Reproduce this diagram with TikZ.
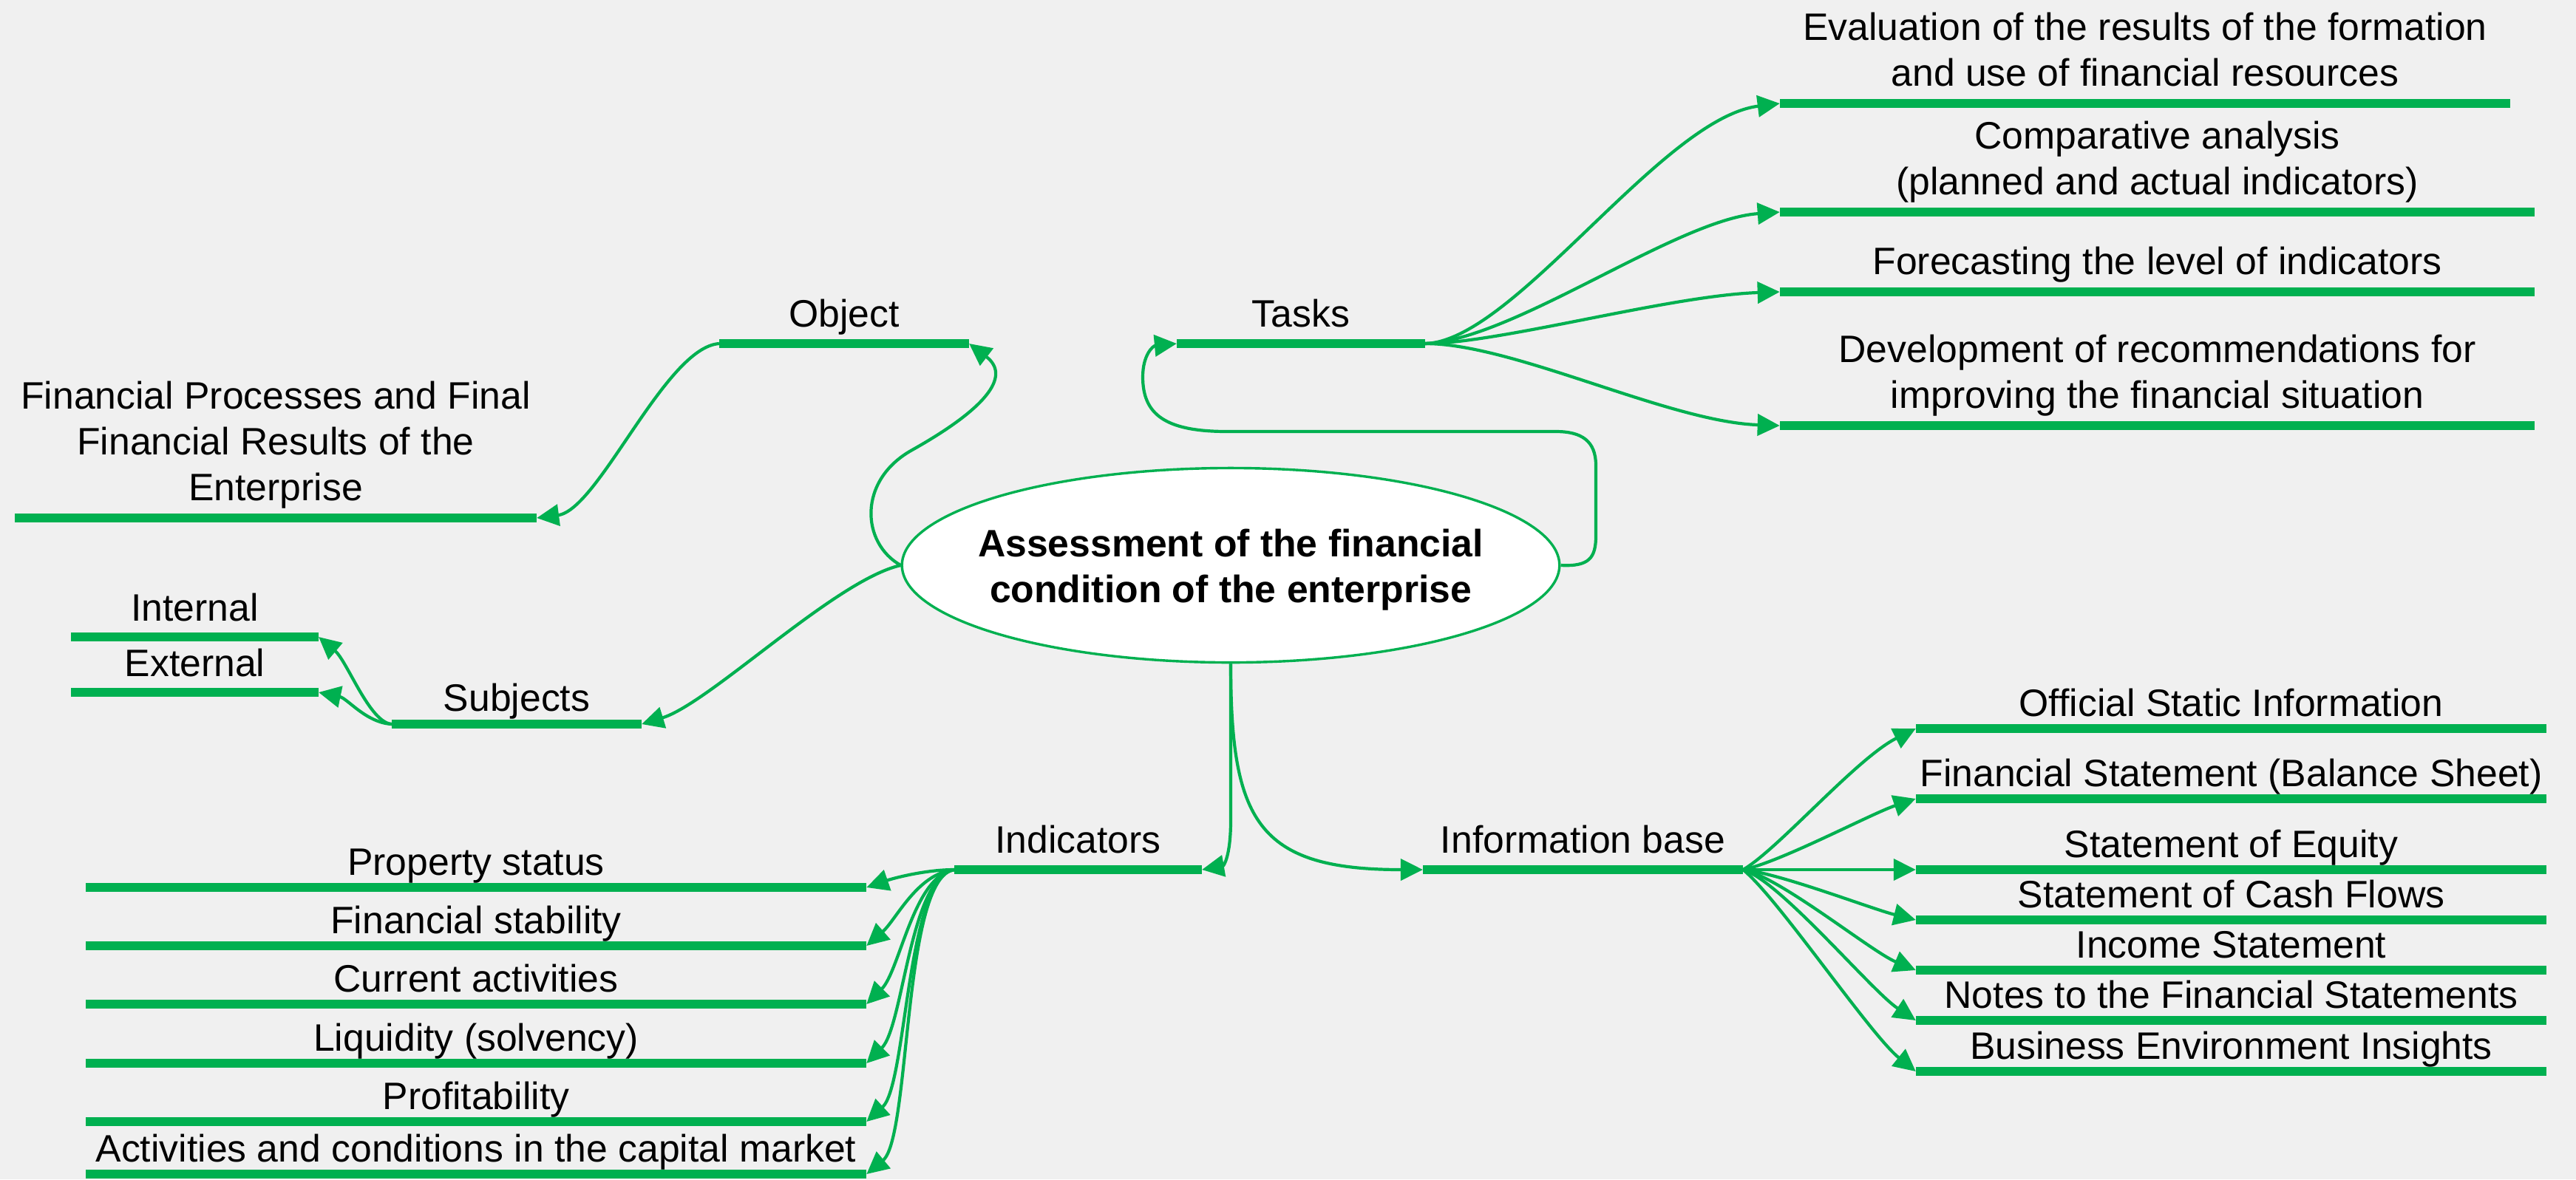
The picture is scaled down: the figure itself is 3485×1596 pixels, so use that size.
\documentclass[tikz,border=0pt]{standalone}
\usepackage{fontspec}
\setmainfont{Liberation Sans}
\usetikzlibrary{arrows.meta,shapes.geometric}
\definecolor{grn}{RGB}{0,176,80}
\definecolor{paper}{RGB}{240,240,240}
\newcommand{\ml}[1]{\begin{tabular}[b]{@{}c@{}}#1\end{tabular}}
\begin{document}
\begin{tikzpicture}[x=0.01cm,y=-0.01cm,
  bar/.style={rectangle,fill=grn,draw=none,inner sep=0pt,outer sep=0pt,minimum height=0.113cm},
  lbl/.style={anchor=base,inner sep=0pt,outer sep=0pt,font=\fontsize{14.7}{17.6}\selectfont},
  conn/.style={draw=grn,line width=0.042cm,-{Triangle[length=0.3cm,width=0.29cm]}},
  hub/.style={ellipse,draw=grn,line width=0.034cm,fill=white,minimum width=8.89cm,minimum height=2.63cm,inner sep=0pt}]
\fill[paper] (0,0) rectangle (3485,1596);
\useasboundingbox (0,0) rectangle (3485,1596);

% central hub
\node[hub] (hub) at (1665,765) {};
\node[lbl,font=\bfseries\fontsize{14.7}{17.6}\selectfont] (hubtxt) at (1665,815) {\ml{Assessment of the financial\\condition of the enterprise}};

% bars
\node[bar,minimum width=3.36cm] (tasks) at (1760,465) {};
\node[bar,minimum width=9.88cm] (t1) at (2902,140) {};
\node[bar,minimum width=10.21cm] (t2) at (2918.5,287) {};
\node[bar,minimum width=10.21cm] (t3) at (2918.5,395) {};
\node[bar,minimum width=10.21cm] (t4) at (2918.5,576) {};
\node[bar,minimum width=3.38cm] (object) at (1142,465) {};
\node[bar,minimum width=7.06cm] (proc) at (373,701) {};
\node[bar,minimum width=3.38cm] (subj) at (699,980) {};
\node[bar,minimum width=3.35cm] (internal) at (263.5,862) {};
\node[bar,minimum width=3.35cm] (external) at (263.5,937) {};
\node[bar,minimum width=3.35cm] (ind) at (1458.5,1177) {};
\node[bar,minimum width=10.56cm] (i1) at (644,1201) {};
\node[bar,minimum width=10.56cm] (i2) at (644,1280) {};
\node[bar,minimum width=10.56cm] (i3) at (644,1359) {};
\node[bar,minimum width=10.56cm] (i4) at (644,1439) {};
\node[bar,minimum width=10.56cm] (i5) at (644,1518) {};
\node[bar,minimum width=10.56cm] (i6) at (644,1589) {};
\node[bar,minimum width=4.33cm] (info) at (2141.5,1177) {};
\node[bar,minimum width=8.53cm] (b1) at (3018.5,986) {};
\node[bar,minimum width=8.53cm] (b2) at (3018.5,1081) {};
\node[bar,minimum width=8.53cm] (b3) at (3018.5,1177) {};
\node[bar,minimum width=8.53cm] (b4) at (3018.5,1245) {};
\node[bar,minimum width=8.53cm] (b5) at (3018.5,1313) {};
\node[bar,minimum width=8.53cm] (b6) at (3018.5,1381) {};
\node[bar,minimum width=8.53cm] (b7) at (3018.5,1450) {};

% labels
\node[lbl] (ltasks) at (1760,442) {Tasks};
\node[lbl] (lt1) at (2902,116) {\ml{Evaluation of the results of the formation\\and use of financial resources}};
\node[lbl] (lt2) at (2918.5,263) {\ml{Comparative analysis\\(planned and actual indicators)}};
\node[lbl] (lt3) at (2918.5,371) {Forecasting the level of indicators};
\node[lbl] (lt4) at (2918.5,552) {\ml{Development of recommendations for\\improving the financial situation}};
\node[lbl] (lobject) at (1142,442) {Object};
\node[lbl] (lproc) at (373,677) {\ml{Financial Processes and Final\\Financial Results of the\\Enterprise}};
\node[lbl] (lsubj) at (699,962) {Subjects};
\node[lbl] (linternal) at (263.5,840) {Internal};
\node[lbl] (lexternal) at (263.5,915) {External};
\node[lbl] (lind) at (1458.5,1154) {Indicators};
\node[lbl] (li1) at (644,1184) {Property status};
\node[lbl] (li2) at (644,1263) {Financial stability};
\node[lbl] (li3) at (644,1342) {Current activities};
\node[lbl] (li4) at (644,1422) {Liquidity (solvency)};
\node[lbl] (li5) at (644,1501) {Profitability};
\node[lbl] (li6) at (644,1572) {Activities and conditions in the capital market};
\node[lbl] (linfo) at (2141.5,1154) {Information base};
\node[lbl] (lb1) at (3018.5,969) {Official Static Information};
\node[lbl] (lb2) at (3018.5,1064) {Financial Statement (Balance Sheet)};
\node[lbl] (lb3) at (3018.5,1160) {Statement of Equity};
\node[lbl] (lb4) at (3018.5,1228) {Statement of Cash Flows};
\node[lbl] (lb5) at (3018.5,1296) {Income Statement};
\node[lbl] (lb6) at (3018.5,1364) {Notes to the Financial Statements};
\node[lbl] (lb7) at (3018.5,1433) {Business Environment Insights};

% connectors from hub
\draw[conn] (hub.west) .. controls (1165,735) and (1160,650) .. (1234,609)
  .. controls (1330,555) and (1370,510) .. (object.east);
\draw[conn] (hub.west) .. controls (1130,785) and (960,952) .. (subj.east);
\draw[conn] (hub.east) .. controls (2150,767) and (2159,755) .. (2159,725) -- (2159,630)
  .. controls (2159,597) and (2140,584) .. (2105,584) -- (1660,584)
  .. controls (1575,584) and (1546,560) .. (1546,510)
  .. controls (1546,480) and (1560,468) .. (tasks.west);
\draw[conn] (hub.south) -- (1665,1110) .. controls (1665,1160) and (1655,1172) .. (ind.east);
\draw[conn] (hub.south) .. controls (1665,1110) and (1700,1177) .. (info.west);

% object -> processes
\draw[conn] (object.west) .. controls (900,470) and (810,690) .. (proc.east);

% subjects
\draw[conn] (subj.west) .. controls (500,978) and (470,895) .. (internal.east);
\draw[conn] (subj.west) .. controls (495,978) and (470,945) .. (external.east);

% tasks
\draw[conn] (tasks.east) .. controls +(120,-3) and +(-160,20) .. (t1.west);
\draw[conn] (tasks.east) .. controls +(120,-5) and +(-140,10) .. (t2.west);
\draw[conn] (tasks.east) .. controls +(100,0) and +(-150,5) .. (t3.west);
\draw[conn] (tasks.east) .. controls +(120,0) and +(-150,-5) .. (t4.west);

% indicators
\draw[conn] (ind.west) .. controls +(-40,0) and +(35,-12) .. (i1.east);
\draw[conn] (ind.west) .. controls +(-50,5) and +(40,-35) .. (i2.east);
\draw[conn] (ind.west) .. controls +(-55,8) and +(45,-45) .. (i3.east);
\draw[conn] (ind.west) .. controls +(-60,10) and +(50,-50) .. (i4.east);
\draw[conn] (ind.west) .. controls +(-65,10) and +(55,-50) .. (i5.east);
\draw[conn] (ind.west) .. controls +(-70,10) and +(60,-50) .. (i6.east);

% information base
\draw[conn] (info.east) .. controls +(47,-27) and +(-80,40) .. (b1.west);
\draw[conn] (info.east) .. controls +(50,-10) and +(-60,20) .. (b2.west);
\draw[conn] (info.east) -- (b3.west);
\draw[conn] (info.east) .. controls +(50,5) and +(-60,-15) .. (b4.west);
\draw[conn] (info.east) .. controls +(50,10) and +(-60,-25) .. (b5.west);
\draw[conn] (info.east) .. controls +(50,15) and +(-60,-40) .. (b6.west);
\draw[conn] (info.east) .. controls +(47,38) and +(-62,-50) .. (b7.west);
\end{tikzpicture}
\end{document}
